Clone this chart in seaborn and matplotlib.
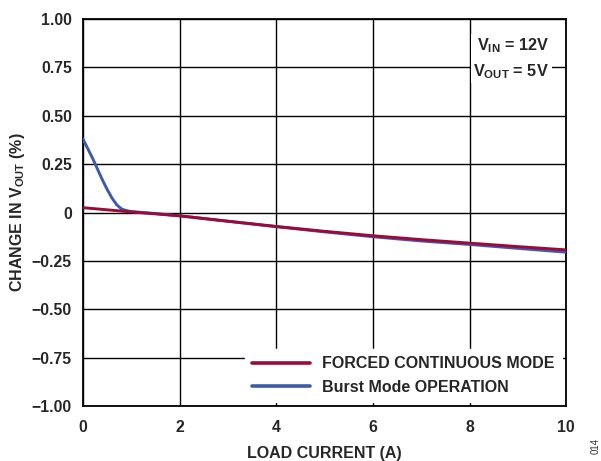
import numpy as np
import pandas as pd
import matplotlib
matplotlib.use("Agg")
import matplotlib.pyplot as plt
import seaborn as sns

# Output voltage change vs. load current
fcm_current = [0, 1, 2, 3, 4, 5, 6, 7, 8, 9, 10]
fcm_change = [0.025, 0.003, -0.017, -0.045, -0.072, -0.097, -0.12, -0.14, -0.158, -0.176, -0.193]

burst_current = [0, 0.1, 0.2, 0.3, 0.4, 0.5, 0.6, 0.7, 0.8, 0.9, 1.0, 1.5, 2, 3, 4, 5, 6, 7, 8, 9, 10]
burst_change = [0.38, 0.33, 0.28, 0.225, 0.17, 0.12, 0.075, 0.04, 0.018, 0.01, 0.005, -0.005, -0.017, -0.045, -0.073, -0.1, -0.125, -0.147, -0.165, -0.185, -0.205]

series_names = ["FORCED CONTINUOUS MODE", "Burst Mode OPERATION"]
series_colors = ["#9c0a3c", "#3d5aa8"]

x_ticks = [0, 2, 4, 6, 8, 10]
y_ticks = [-1.00, -0.75, -0.50, -0.25, 0, 0.25, 0.50, 0.75, 1.00]
y_tick_labels = ["\u22121.00", "\u22120.75", "\u22120.50", "\u22120.25", "0", "0.25", "0.50", "0.75", "1.00"]

sns.set_style("white")
plt.rcParams["font.family"] = ["Liberation Sans", "DejaVu Sans"]
plt.rcParams["font.weight"] = "bold"
plt.rcParams["mathtext.fontset"] = "custom"
plt.rcParams["mathtext.rm"] = "Liberation Sans:bold"
plt.rcParams["mathtext.bf"] = "Liberation Sans:bold"
plt.rcParams["mathtext.default"] = "bf"

df = pd.concat([
    pd.DataFrame({"current": fcm_current, "change": fcm_change, "mode": series_names[0]}),
    pd.DataFrame({"current": burst_current, "change": burst_change, "mode": series_names[1]}),
])

fig = plt.figure(figsize=(6.01, 4.61), dpi=100)
ax = fig.add_axes([0.138, 0.119, 0.804, 0.840])

# Burst mode drawn first so forced continuous mode sits on top
for name, color, z in [(series_names[1], series_colors[1], 3), (series_names[0], series_colors[0], 4)]:
    sns.lineplot(data=df[df["mode"] == name], x="current", y="change", color=color,
                 linewidth=2.1, ax=ax, label=name, zorder=z, sort=True)

ax.set_xlim(0, 10)
ax.set_ylim(-1, 1)
ax.set_xticks(x_ticks)
ax.set_yticks(y_ticks)
ax.set_yticklabels(y_tick_labels)
ax.grid(True, color="black", linewidth=1.0)
ax.set_axisbelow(True)
for s in ax.spines.values():
    s.set_color("black")
    s.set_linewidth(1.3)
ax.tick_params(axis="both", direction="in", length=5, width=1, color="black",
               labelsize=11.3, top=False, right=False)
ax.tick_params(axis="x", pad=10)
ax.tick_params(axis="y", pad=8)
for lbl in ax.get_xticklabels() + ax.get_yticklabels():
    lbl.set_fontweight("bold")

ax.set_xlabel("LOAD CURRENT (A)", fontsize=11.5, fontweight="bold", labelpad=8)
ax.set_ylabel("CHANGE IN V$_{OUT}$ (%)", fontsize=11.5, fontweight="bold", labelpad=3.5)

handles, labels = ax.get_legend_handles_labels()
order = [labels.index(series_names[0]), labels.index(series_names[1])]
leg = ax.legend([handles[i] for i in order], [labels[i] for i in order],
                loc="lower right", bbox_to_anchor=(1.0, 0.0), frameon=True,
                fancybox=False, edgecolor="white", facecolor="white", framealpha=1,
                fontsize=11.5, handlelength=3.6, handletextpad=0.8, labelspacing=0.55,
                borderpad=0.45, borderaxespad=0.25)
for t in leg.get_texts():
    t.set_fontweight("bold")
for h in leg.get_lines():
    h.set_linewidth(2.6)
leg.set_zorder(5)

ax.text(0.965, 0.955, "V$_{IN}$ = 12V\nV$_{OUT}$ = 5V", transform=ax.transAxes,
        ha="right", va="top", fontsize=11.7, fontweight="bold", linespacing=1.5,
        bbox=dict(facecolor="white", edgecolor="none", pad=2), zorder=5)

fig.text(0.999, 0.015, "014", rotation=90, fontsize=7, fontweight="normal",
         ha="right", va="bottom", color="#333333")

fig.savefig("out.png", dpi=100)
